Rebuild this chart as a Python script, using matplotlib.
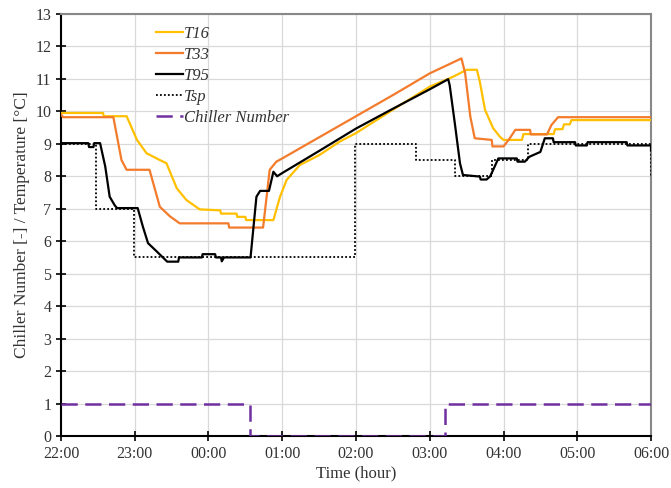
import matplotlib
matplotlib.use("Agg")
import matplotlib.pyplot as plt

plt.rcParams['font.family'] = ['Liberation Serif', 'DejaVu Serif']

# time in hours since 22:00
t16_t = [0, 0.57, 0.58, 0.89, 1.03, 1.16, 1.34, 1.43, 1.57, 1.70, 1.88, 2.16, 2.17, 2.38, 2.39, 2.5, 2.51, 2.88,
         2.97, 3.06, 3.24, 3.5, 3.78, 4.0, 4.5, 5.0, 5.32, 5.5, 5.64, 5.68, 5.75, 5.86, 5.95, 6.0, 6.25, 6.27,
         6.68, 6.7, 6.8, 6.82, 6.9, 6.92, 8.0]
t16_v = [9.95, 9.95, 9.85, 9.85, 9.12, 8.71, 8.5, 8.4, 7.63, 7.27, 6.98, 6.95, 6.85, 6.85, 6.75, 6.75, 6.65, 6.65,
         7.37, 7.89, 8.35, 8.65, 9.07, 9.33, 10.05, 10.76, 11.07, 11.28, 11.28, 10.9, 10.04, 9.48, 9.22, 9.12, 9.12, 9.3,
         9.3, 9.45, 9.45, 9.6, 9.6, 9.73, 9.73]

t33_t = [0, 0.03, 0.71, 0.82, 0.89, 1.2, 1.34, 1.48, 1.61, 2.27, 2.28, 2.74, 2.83, 2.92, 3.0, 3.5, 4.0, 4.5, 5.0,
         5.43, 5.48, 5.55, 5.61, 5.84, 5.85, 6.0, 6.07, 6.16, 6.36, 6.37, 6.59, 6.65, 6.74, 8.0]
t33_v = [9.9, 9.82, 9.82, 8.5, 8.2, 8.2, 7.06, 6.76, 6.55, 6.55, 6.42, 6.42, 8.2, 8.45, 8.55, 9.2, 9.85, 10.5, 11.17,
         11.63, 11.17, 9.84, 9.17, 9.12, 8.92, 8.92, 9.12, 9.43, 9.43, 9.29, 9.29, 9.58, 9.82, 9.82]

t95_t = [0, 0.37, 0.38, 0.44, 0.45, 0.53, 0.6, 0.66, 0.73, 0.76, 1.04, 1.11, 1.18, 1.3, 1.44, 1.59, 1.6, 1.91, 1.92,
         2.09, 2.1, 2.17, 2.18, 2.21, 2.57, 2.65, 2.7, 2.82, 2.88, 2.93, 3.0, 3.5, 4.0, 4.5, 5.0, 5.25, 5.27, 5.34,
         5.41, 5.45, 5.68, 5.69, 5.77, 5.82, 5.93, 6.18, 6.19, 6.29, 6.35, 6.5, 6.56, 6.67, 6.68, 6.97, 6.98, 7.13,
         7.14, 7.67, 7.68, 8.0, 8.0]
t95_v = [9.02, 9.02, 8.9, 8.9, 9.02, 9.02, 8.3, 7.37, 7.1, 7.02, 7.02, 6.45, 5.94, 5.68, 5.37, 5.37, 5.5, 5.5, 5.6,
         5.6, 5.5, 5.5, 5.38, 5.5, 5.5, 7.37, 7.55, 7.55, 8.14, 8.0, 8.1, 8.78, 9.47, 10.08, 10.68, 10.99, 10.81, 9.63,
         8.4, 8.04, 7.99, 7.9, 7.9, 8.0, 8.55, 8.55, 8.45, 8.45, 8.6, 8.75, 9.17, 9.17, 9.05, 9.05, 8.95, 8.95,
         9.05, 9.05, 8.95, 8.95, 8.8]

tsp_t = [0, 0.48, 0.99, 3.99, 4.82, 5.34, 5.84, 6.33, 8.0]
tsp_v = [9, 7, 5.5, 9, 8.5, 8, 8.5, 9, 8]

chiller_t = [0, 2.56, 5.2, 8.0]
chiller_v = [1, 0, 1, 1]

xtick_pos = [0, 1, 2, 3, 4, 5, 6, 7, 8]
xtick_labels = ['22:00', '23:00', '00:00', '01:00', '02:00', '03:00', '04:00', '05:00', '06:00']

fig = plt.figure(figsize=(6.71, 4.88), dpi=100)
ax = fig.add_axes([0.0909, 0.1066, 0.8793, 0.8648])

ax.plot(t16_t, t16_v, color='#FFC000', lw=1.6, label='T16', zorder=3)
ax.plot(t33_t, t33_v, color='#F37B2B', lw=1.6, label='T33', zorder=3)
ax.plot(t95_t, t95_v, color='#000000', lw=1.6, label='T95', zorder=4)
ax.plot(tsp_t, tsp_v, color='#000000', lw=1.3, linestyle=(0, (1, 1.2)), drawstyle='steps-post', label='Tsp', zorder=3)
ax.plot(chiller_t, chiller_v, color='#7030A0', lw=1.8, linestyle=(0, (6.5, 3)), drawstyle='steps-post',
        label='Chiller Number', zorder=3)

ax.set_xlim(0, 8)
ax.set_ylim(0, 13)
ax.set_xticks(xtick_pos)
ax.set_xticklabels(xtick_labels)
ax.set_yticks(range(0, 14))
ax.tick_params(axis='both', direction='inout', length=7, width=1.2, labelsize=11.5, colors='black',
               labelcolor='#333333')
ax.grid(True, color='#D9D9D9', lw=0.9)
ax.set_axisbelow(True)

for s in ['left', 'bottom']:
    ax.spines[s].set_color('black')
    ax.spines[s].set_linewidth(1.5)
for s in ['top', 'right']:
    ax.spines[s].set_color('#888888')
    ax.spines[s].set_linewidth(1.5)

ax.set_xlabel('Time (hour)', fontsize=12, color='#333333', labelpad=3)
ax.set_ylabel('Chiller Number [-] / Temperature [°C]', fontsize=12.5, color='#333333', labelpad=4)

leg = ax.legend(loc='upper left', bbox_to_anchor=(0.1356, 1.008), frameon=False,
                prop={'style': 'italic', 'size': 12}, handlelength=1.6, handletextpad=0.1,
                labelspacing=0.31)
for txt in leg.get_texts():
    txt.set_color('#333333')

fig.savefig('out.png', dpi=100)
